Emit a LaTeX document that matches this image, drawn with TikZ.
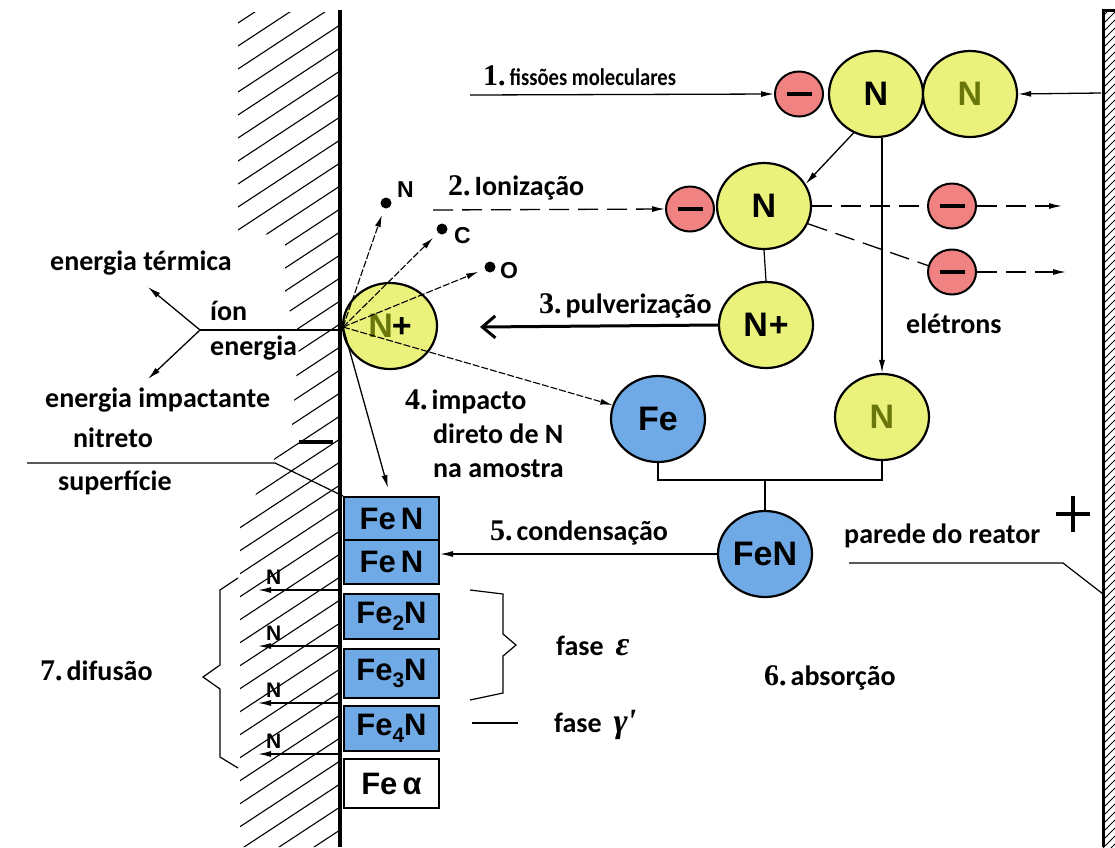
\documentclass[tikz,border=0pt]{standalone}
\usepackage{fontspec}
\usepackage{graphicx}
\setmainfont{Carlito}
\newfontfamily\helvf{Liberation Sans}
\newfontfamily\timesf{Liberation Serif}
\usetikzlibrary{arrows.meta,shapes.geometric}
\definecolor{ncol}{RGB}{234,242,124}
\definecolor{ecol}{RGB}{240,130,130}
\definecolor{fecol}{RGB}{112,170,230}
\definecolor{olivetext}{RGB}{105,118,10}
\newcommand\lblsize{\fontsize{28}{30}\selectfont}
\newcommand\numf[1]{{\timesf\bfseries\fontsize{30}{32}\selectfont #1}\kern4pt}
\newcommand\sbs[1]{\raisebox{-0.45ex}{\fontsize{21}{21}\selectfont #1}}
\newcommand\ebar{\rule{25pt}{3.6pt}}
\begin{document}
\begin{tikzpicture}[x=1pt,y=-1pt,
  lbl/.style={anchor=base west, inner sep=0, font=\bfseries\lblsize},
  big/.style={ellipse, draw, line width=2.2pt, minimum width=94pt, minimum height=86pt, inner sep=0, font=\helvf\bfseries\fontsize{34}{34}\selectfont},
  yel/.style={big, fill=ncol},
  blu/.style={big, fill=fecol},
  ele/.style={ellipse, draw, line width=2pt, fill=ecol, minimum width=48pt, minimum height=45pt, inner sep=0},
  layer/.style={draw, line width=2pt, fill=fecol, minimum width=95pt, inner sep=0, anchor=north west, font=\helvf\bfseries\fontsize{31}{31}\selectfont},
  arr/.style={line width=1.3pt, -{Latex[length=13pt,width=6pt]}},
  darr/.style={arr, dash pattern=on 20pt off 9pt},
  dsh/.style={line width=1.3pt, dash pattern=on 20pt off 9pt},
  ray/.style={line width=1.1pt, dash pattern=on 7pt off 2pt},
  rayarr/.style={ray, -{Latex[length=12pt,width=6pt]}},
  dotn/.style={circle, fill=black, minimum size=11pt, inner sep=0},
  smalllbl/.style={anchor=base west, inner sep=0, font=\helvf\bfseries\fontsize{23}{23}\selectfont},
  wall/.style={line width=3.5pt},
  hatch/.style={line width=1.1pt},
  thin line/.style={line width=1.2pt},
]
\useasboundingbox (0,0) rectangle (1115,847);

% hatched cathode wall on the left
\begin{scope}
  \clip (238,12) -- (340,12) -- (340,847) -- (240,847) -- (240,525) -- (292,425)
        -- (300,335) -- (285,300) -- (285,236) -- (238,232) -- cycle;
  \foreach \y in {0,23,...,940} \draw[hatch] (238,\y) -- (340,\y-67);
\end{scope}
\draw[wall] (340,10) -- (340,847);

% hatched reactor wall on the right
\begin{scope}
  \clip (1103,10) rectangle (1116,847);
  \foreach \y in {0,8,...,880} \draw[line width=0.9pt] (1103,\y) -- (1116,\y-13);
\end{scope}
\draw[line width=3pt] (1103,847) -- (1103,10) -- (1116,10);

% particles
\node[ele] (e1) at (799,94) {\ebar};
\node[yel] (n1) at (876,94) {N};
\node[yel] (n2) at (970,94) {\color{olivetext}N};
\node[ele] (e2) at (690,209) {\ebar};
\node[yel] (n3) at (764,206) {N};
\node[ele] (e3) at (952,206) {\ebar};
\node[ele] (e4) at (952,272) {\ebar};
\node[yel] (np) at (766,325) {N\kern1pt+};
\node[blu] (fe) at (658,419) {Fe};
\node[yel] (n4) at (882,417) {\color{olivetext}N};
\node[blu] (fen) at (765,554) {FeN};
\node[yel] (ion) at (390,326) {\color{olivetext}N\kern-1pt\color{black}+};

% nitride layers
\node[layer, minimum height=43pt] (b1) at (343,496) {Fe\,N};
\node[layer, minimum height=44pt] (b2) at (343,539) {Fe\,N};
\node[layer, minimum height=45pt] (b3) at (343,593) {Fe\sbs{2}N};
\node[layer, minimum height=49pt] (b4) at (343,648) {Fe\sbs{3}N};
\node[layer, minimum height=45pt] (b5) at (343,705) {Fe\sbs{4}N};
\node[layer, minimum height=49pt, fill=white] (b6) at (343,758) {Fe\,α};

% sputtered atoms
\node[dotn] (dN) at (386,203) {};
\node[dotn] (dC) at (442,229) {};
\node[dotn] (dO) at (490,267) {};
\node[smalllbl] (lN) at (397,197) {N};
\node[smalllbl] (lC) at (454,243) {C};
\node[smalllbl] (lO) at (500,278) {O};

% 1. molecular fission
\coordinate (s1) at (470,95);
\coordinate (w1) at (1101,93);
\draw[arr] (s1) -- (e1.west);
\draw[arr] (w1) -- (n2.east);
\draw[arr] (n1.240) -- (n3.28);
\draw[arr] (n4.north |- n1.south) -- (n4.north);

% 2. ionisation
\coordinate (s2) at (433,210);
\coordinate (o3) at (1062,206);
\coordinate (o4) at (1066,272);
\draw[darr] (s2) -- (e2.west);
\draw[dsh] (n3.east) -- (e3.west);
\draw[darr] (e3.east) -- (o3);
\draw[dsh] (n3.-22) -- (e4.165);
\draw[darr] (e4.east) -- (o4);
\draw[thin line] (n3.south) -- (np.north);

% 3. sputtering
\coordinate (p3) at (480,327);
\draw[line width=3pt, -{Straight Barb[length=13pt,width=22pt]}] (np.west) -- (p3);

% ion impact at the cathode
\coordinate (io) at (343,327);
\coordinate (bt) at (388,488);
\draw[rayarr, shorten >=7pt] (io) -- (dN);
\draw[rayarr, shorten >=7pt] (io) -- (dC);
\draw[rayarr, shorten >=7pt] (io) -- (dO);
\draw[rayarr] (io) -- (fe.163);
\draw[arr] (io) -- (bt);

% 4. formation of FeN
\coordinate (jn) at (765,480);
\draw[thin line] (fe.south) |- (jn) -| (n4.south);
\draw[thin line] (jn) -- (fen.north);

% 5. condensation
\draw[arr] (fen.west) -- (fen.west -| b2.east);

% energy split of the ion
\coordinate (wy) at (340,330);
\coordinate (yb) at (200,330);
\coordinate (ya) at (148,287);
\coordinate (yc) at (148,379);
\draw[thin line] (wy) -- (yb);
\draw[arr] (yb) -- (ya);
\draw[arr] (yb) -- (yc);

% surface leader
\coordinate (sl1) at (27,463);
\coordinate (sl2) at (275,463);
\draw[thin line] (sl1) -- (sl2) -- (b1.north west);

% reactor wall leader
\coordinate (pd1) at (849,563);
\coordinate (pd2) at (1063,563);
\coordinate (pd3) at (1103,594);
\draw[thin line] (pd1) -- (pd2) -- (pd3);

% polarity signs
\node[inner sep=0] (minus) at (316,442) {\rule{34pt}{3.8pt}};
\node[inner sep=0] (plus) at (1073,514) {};
\draw[line width=4pt] ([xshift=-17pt]plus.center) -- ([xshift=17pt]plus.center);
\draw[line width=4pt] ([yshift=-18pt]plus.center) -- ([yshift=18pt]plus.center);

% 7. diffusion of nitrogen
\foreach \yy/\k in {590/1,646/2,703/3,754/4}{
  \coordinate (dw\k) at (340,\yy);
  \coordinate (dt\k) at (258,\yy);
  \draw[arr] (dw\k) -- (dt\k);
  \node[smalllbl, font=\helvf\bfseries\fontsize{21}{21}\selectfont] (dn\k) at (266,\yy-6) {N};
}
\coordinate (lb1) at (238,578);
\coordinate (lb2) at (238,768);
\draw[thin line] (lb1) -- (220,590) -- (220,665) -- (203,677) -- (220,689) -- (220,757) -- (lb2);
\coordinate (rb1) at (470,590);
\coordinate (rb2) at (470,700);
\draw[thin line] (rb1) -- (503,594) -- (503,634) -- (516,645) -- (503,656) -- (503,693) -- (rb2);
\coordinate (gl1) at (472,723);
\coordinate (gl2) at (518,723);
\draw[thin line] (gl1) -- (gl2);

% labels
\node[lbl] (t1) at (483,85) {\numf{1.}\scalebox{0.86}[1]{\fontsize{24}{26}\selectfont fissões moleculares}};
\node[lbl] (t2) at (448,195) {\numf{2.}Ionização};
\node[lbl] (t3) at (539,313) {\numf{3.}pulverização};
\node[lbl] (tel) at (906,333) {elétrons};
\node[lbl] (t4) at (405,409) {\numf{4.}impacto};
\node[lbl] (t4b) at (433,443) {direto de N};
\node[lbl] (t4c) at (433,477) {na amostra};
\node[lbl] (t5) at (490,540) {\numf{5.}condensação};
\node[lbl] (tpw) at (844,543) {parede do reator};
\node[lbl] (t6) at (764,685) {\numf{6.}absorção};
\node[lbl] (t7) at (40,680) {\numf{7.}difusão};
\node[lbl] (fe1) at (556,655) {fase\kern12pt{\timesf\bfseries\itshape\fontsize{34}{30}\selectfont ε}};
\node[lbl] (fe2) at (554,732) {fase\kern12pt{\timesf\bfseries\itshape\fontsize{34}{30}\selectfont γ\kern-1pt'}};
\node[lbl] (tet) at (50,270) {energia térmica};
\node[lbl] (tion) at (210,320) {íon};
\node[lbl] (ten) at (210,355) {energia};
\node[lbl] (tei) at (45,407) {energia impactante};
\node[lbl] (tni) at (73,447) {nitreto};
\node[lbl] (tsu) at (58,490) {superfície};
\end{tikzpicture}
\end{document}
